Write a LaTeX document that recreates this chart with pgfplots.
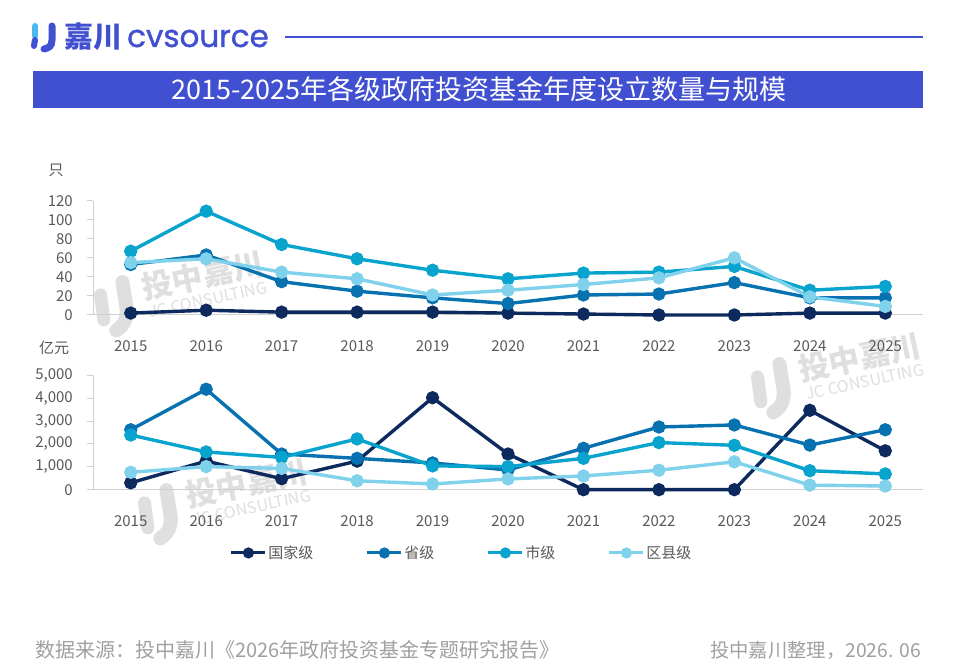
\documentclass[border=0pt]{standalone}
\usepackage{fontspec}
\usepackage{pgfplots}
\pgfplotsset{compat=1.18}
\usepackage{pgfplotstable}
\setmainfont{Noto Sans CJK SC}
\newfontfamily\logofont{Poppins}[FakeBold=1.2]
\definecolor{hdr}{HTML}{4150D0}
\definecolor{lblue}{HTML}{4DB8F0}
\definecolor{cA}{HTML}{0D2A5E}
\definecolor{cB}{HTML}{0872B0}
\definecolor{cC}{HTML}{08A4CE}
\definecolor{cD}{HTML}{80D2EC}
\definecolor{axg}{HTML}{D0D0D0}
\definecolor{tk}{HTML}{595959}
\definecolor{ft}{HTML}{A0A0A0}
\definecolor{wm}{HTML}{DFDFDF}

\pgfplotstableread{
i a b c d
0 2 53 67 55
1 5 63 109 59
2 3 35 74 45
3 3 25 59 38
4 3 18 47 21
5 2 12 38 26
6 1 21 44 32
7 0 22 45 39
8 0 34 51 60
9 2 18 26 19
10 2 18 30 9
}\cnt

\pgfplotstableread{
i a b c d
0 300 2620 2390 760
1 1250 4390 1650 1010
2 480 1560 1410 930
3 1250 1370 2220 390
4 4020 1170 1040 250
5 1560 860 1010 470
6 0 1810 1370 600
7 0 2740 2060 850
8 0 2830 1940 1220
9 3470 1950 830 200
10 1700 2620 690 160
}\amt

\pgfplotsset{
  base/.style={
    scale only axis, width=830pt, xmin=-0.5, xmax=10.5,
    xtick={0,...,10},
    xticklabels={2015,2016,2017,2018,2019,2020,2021,2022,2023,2024,2025},
    axis x line=bottom, axis y line=left,
    axis line style={draw=axg, line width=1pt, -},
    tick align=outside, major tick length=6pt,
    xtick style={draw=none}, ytick style={draw=axg, line width=1pt},
    tick label style={font=\fontsize{15}{15}\selectfont, text=tk, inner sep=0pt},
    xticklabel style={anchor=center, yshift=-25pt},
    yticklabel style={anchor=east, xshift=-14pt},
    /pgf/number format/assume math mode=true,
    clip=false,
  },
  s/.style={line width=3.4pt, color=#1, mark=*, mark size=4.9pt, mark options={solid, fill=#1, draw=#1}},
}

\newcommand\wmark[2]{%
  \begin{scope}[shift={(#1,#2)}, rotate=12, transform shape]
    \node[text=wm, font=\fontsize{31}{31}\selectfont\bfseries, inner sep=0pt] at (0,11) {投中嘉川};
    \node[text=wm, font=\fontsize{16}{16}\selectfont, inner sep=0pt] at (0,-14) {JC CONSULTING};
    \draw[wm, line width=13pt, line cap=round] (-104,13) -- (-106,-12);
    \draw[wm, line width=14pt, line cap=round] (-80,21) -- (-81,0) .. controls (-81,-14) and (-86,-21) .. (-96,-25);
  \end{scope}}

\begin{document}
\begin{tikzpicture}[x=1pt, y=1pt]
\fill[white] (0,0) rectangle (960,669);

% header
\draw[lblue, line width=6pt, line cap=round] (35,643) -- (35,633);
\draw[hdr, line width=6pt, line cap=round] (35,629) -- (34,623);
\draw[hdr, line width=7pt, line cap=round] (52,643) -- (52,629) .. controls (52,623) and (49,621) .. (44,620);
\node[text=hdr, font=\fontsize{29}{29}\selectfont\bfseries, inner sep=0pt] at (93,632.5) {嘉川};
\node[text=hdr, font=\logofont\fontsize{31}{31}\selectfont, inner sep=0pt, anchor=base west] at (127,622) {cvsource};
\draw[hdr, line width=2pt] (285,632) -- (923,632);
\fill[hdr] (33,598) rectangle (923,561);
\node[text=white, font=\fontsize{27}{27}\selectfont, inner sep=0pt] at (479,579.5) {2015-2025年各级政府投资基金年度设立数量与规模};

% watermarks
\wmark{205}{383}
\wmark{862}{301}
\wmark{249}{175}

% unit labels
\node[text=tk, font=\fontsize{15}{15}\selectfont, inner sep=0pt] at (56,499) {只};
\node[text=tk, font=\fontsize{15}{15}\selectfont, inner sep=0pt] at (54,321) {亿元};

% top axis
\begin{axis}[base, at={(93pt,354pt)}, anchor=south west, height=114.3pt,
  ymin=0, ymax=120, ytick={0,20,...,120}]
\addplot[s=cA] table[x=i, y=a] {\cnt};
\addplot[s=cB] table[x=i, y=b] {\cnt};
\addplot[s=cC] table[x=i, y=c] {\cnt};
\addplot[s=cD] table[x=i, y=d] {\cnt};
\end{axis}

% bottom axis
\begin{axis}[base, at={(93pt,179.3pt)}, anchor=south west, height=114.4pt,
  ymin=0, ymax=5000, ytick={0,1000,...,5000},
  /pgf/number format/.cd, 1000 sep={,}, /pgfplots/.cd,
  legend style={at={(axis description cs:0.165,-0.553)}, anchor=west,
    draw=none, fill=none, inner sep=0pt, outer sep=0pt,
    legend columns=4, font=\fontsize{15}{15}\selectfont, text=tk,
    /tikz/every even column/.append style={column sep=51pt},
    nodes={inner sep=1.5pt}},
  legend image code/.code={\draw[mark repeat=2, mark phase=2, #1, line width=3pt, mark size=4pt] plot coordinates {(0pt,0pt) (17pt,0pt) (34pt,0pt)};},
]
\addplot[s=cA] table[x=i, y=a] {\amt};
\addlegendentry{国家级}
\addplot[s=cB] table[x=i, y=b] {\amt};
\addlegendentry{省级}
\addplot[s=cC] table[x=i, y=c] {\amt};
\addlegendentry{市级}
\addplot[s=cD] table[x=i, y=d] {\amt};
\addlegendentry{区县级}
\end{axis}

% footer
\node[text=ft, font=\fontsize{20}{20}\selectfont, inner sep=0pt, anchor=west] at (35,19) {数据来源：投中嘉川《2026年政府投资基金专题研究报告》};
\node[text=ft, font=\fontsize{19.3}{19.3}\selectfont, inner sep=0pt, anchor=east] at (921,19) {投中嘉川整理，2026. 06};
\end{tikzpicture}
\end{document}
